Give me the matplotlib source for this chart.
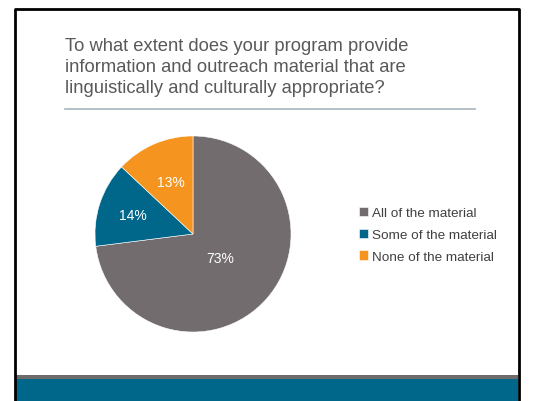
import matplotlib.pyplot as plt
import matplotlib.patches as mpatches
import numpy as np

plt.rcParams['font.family'] = ['Liberation Sans', 'DejaVu Sans']

# Data
title = ("To what extent does your program provide\n"
         "information and outreach material that are\n"
         "linguistically and culturally appropriate?")
categories = ["All of the material", "Some of the material", "None of the material"]
values = [73, 14, 13]
colors = ["#726c6f", "#00678a", "#f59520"]
label_dist = [0.37, 0.64, 0.58]

W, H = 550, 402
fig = plt.figure(figsize=(W / 100, H / 100), dpi=100)
fig.patch.set_facecolor('white')

# slide background / frame, pixel coordinates
bg = fig.add_axes([0, 0, 1, 1])
bg.set_xlim(0, W)
bg.set_ylim(H, 0)
bg.axis('off')
bg.add_patch(mpatches.Rectangle((16, 376), 502, 4, color='#6e6a6b', lw=0))
bg.add_patch(mpatches.Rectangle((16, 380), 502, 22, color='#00678a', lw=0))
bg.plot([15, 15, 519, 519], [H, 10, 10, H], color='black', lw=2, solid_capstyle='butt')
bg.plot([65, 475], [110, 110], color='#a7b5bc', lw=1.2)
bg.text(65, 38, title, fontsize=13.2, color='#595959', va='top', ha='left',
        linespacing=1.3)

# pie
ax = fig.add_axes([94 / W, 1 - 334 / H, 198 / W, 198 / H])
wedges, _ = ax.pie(values, colors=colors, startangle=90, counterclock=False,
                   wedgeprops=dict(edgecolor='white', linewidth=0.4))
for w, v, d in zip(wedges, values, label_dist):
    ang = np.deg2rad((w.theta1 + w.theta2) / 2)
    ax.text(d * np.cos(ang), d * np.sin(ang), f"{v}%", color='white',
            fontsize=10, ha='center', va='center')
ax.set_xlim(-1.01, 1.01)
ax.set_ylim(-1.01, 1.01)
ax.set_aspect('equal')

fig.legend(wedges, categories, loc='upper left',
           bbox_to_anchor=(359 / W, 1 - 208 / H), frameon=False,
           fontsize=9.7, labelcolor='#404040', handlelength=0.7,
           handleheight=0.7, handletextpad=0.25, labelspacing=0.68,
           borderpad=0, borderaxespad=0)

fig.savefig('out.png', dpi=100)
